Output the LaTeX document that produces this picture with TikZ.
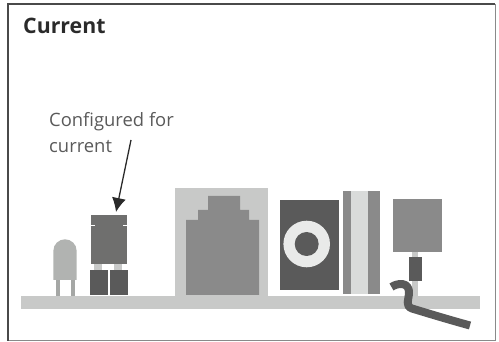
\documentclass[tikz,border=0pt]{standalone}
\usepackage{fontspec}
\setmainfont{Open Sans}
\usetikzlibrary{arrows.meta}
\definecolor{boardgray}{HTML}{C8C9C8}
\definecolor{midgray}{HTML}{8A8A8A}
\definecolor{darkgray}{HTML}{5A5A5A}
\definecolor{jumpergray}{HTML}{6F6F6E}
\definecolor{ledgray}{HTML}{B1B3B1}
\definecolor{leggray}{HTML}{A5A7A5}
\definecolor{ringgray}{HTML}{E9EAE9}
\definecolor{stripegray}{HTML}{D9DBDA}
\definecolor{inkgray}{HTML}{2A2A2A}
\tikzset{
  titletext/.style={font=\fontsize{21.3}{26}\selectfont\bfseries, text=inkgray, inner sep=0pt, anchor=base west},
  labeltext/.style={font=\fontsize{18.4}{25.6}\selectfont, text=darkgray, inner sep=0pt, anchor=base west, align=left},
  callout/.style={draw=inkgray, line width=1.3pt, -{Latex[length=14pt,width=14pt]}},
}
\begin{document}
\begin{tikzpicture}[x=1pt,y=-1pt]
  \useasboundingbox (0,0) rectangle (499,342);
  % frame
  \draw[midgray, line width=1pt] (8,341) -- (495,341) -- (495,4);
  \draw[inkgray!85, line width=1.4pt] (8,341) -- (8,4) -- (495,4);
  % board
  \fill[boardgray] (21,296) rectangle (480,308.7);
  % led
  \fill[leggray] (56,278) rectangle (60,296);
  \fill[leggray] (71,278) rectangle (75,296);
  \fill[ledgray] (53.3,280) -- (53.3,251) .. controls (53.3,244) and (59,239.3) .. (65,239.3)
    .. controls (71,239.3) and (76.7,244) .. (76.7,251) -- (76.7,280) -- cycle;
  % jumper
  \foreach \x in {94,114} {
    \fill[boardgray] (\x,264) rectangle (\x+8,270);
  }
  \fill[jumpergray] (91,215) rectangle (127,264);
  \fill[white] (91,225.2) rectangle (95,226.2);
  \fill[white] (123,225.2) rectangle (127,226.2);
  \foreach \x in {90,110} {
    \fill[darkgray] (\x,270) rectangle (\x+18,295);
  }
  % network socket
  \fill[boardgray] (175,188) rectangle (268,296);
  \fill[midgray] (186,295) -- (186,220) -- (198,220) -- (198,210) -- (208,210) -- (208,196)
    -- (240,196) -- (240,210) -- (249,210) -- (249,220) -- (259,220) -- (259,295) -- cycle;
  % power jack
  \fill[darkgray] (280,200) rectangle (339,290);
  \fill[ringgray] (306.7,244) circle[radius=23.3pt];
  \fill[darkgray] (306.7,244) circle[radius=12pt];
  % striped block
  \fill[midgray] (343,191) rectangle (380,294);
  \fill[stripegray] (351,191) rectangle (368,294);
  % relay and cable
  \fill[boardgray] (412.3,251) rectangle (418,296);
  \fill[midgray] (393,199) rectangle (442,251.7);
  \fill[darkgray] (409,257) rectangle (422,280.7);
  \draw[darkgray, line width=8pt, line join=round] (391.5,287) .. controls (397,283) and (410,281) .. (409,294)
    .. controls (408.5,300) and (405,306) .. (412,308.5) .. controls (430,314) and (450,320) .. (470,325.5);
  % labels
  \node[titletext] (title) at (23,33.5) {Current};
  \node[labeltext] (label) at (49,152.5) {Configured for\\current};
  \coordinate (labelend) at (131,140);
  \coordinate (jumpertip) at (116,212);
  \draw[callout] (labelend) -- (jumpertip);
\end{tikzpicture}
\end{document}
